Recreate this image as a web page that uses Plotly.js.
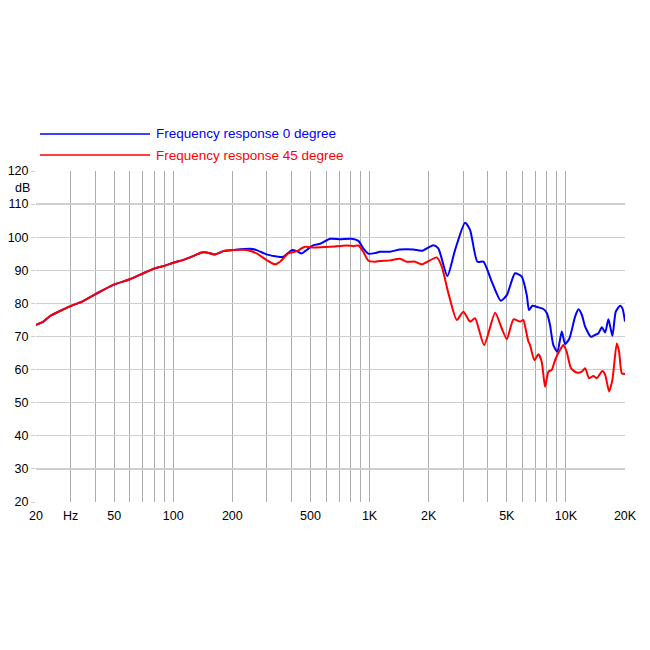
<!DOCTYPE html>
<html>
<head>
<meta charset="utf-8">
<script src="https://cdn.plot.ly/plotly-3.0.1.min.js"></script>
<style>
  html, body { margin: 0; padding: 0; background: #fff; }
  #chart { width: 650px; height: 650px; }
</style>
</head>
<body>
<div id="chart"></div>
<script>
// frequency (Hz) / level (dB)
var freq0 = [20, 21.8, 23.6, 26.5, 30, 34.8, 40.8, 49.5, 60.2, 70.4, 80.8, 90.8, 100, 114.8, 126.5, 139.6, 148, 163, 180, 202,
  246, 266, 299, 343, 364, 402, 426, 452, 482, 518, 560, 630, 708, 811, 877, 929, 986, 1067, 1130, 1271, 1429, 1671, 1845,
  2114, 2240, 2490, 2725, 3063, 3250, 3541, 3800, 4190, 4660, 5000, 5510, 5960, 6320, 6490, 6750, 7240, 7680, 8000, 8300,
  8630, 9050, 9530, 9910, 10420, 11140, 11590, 12060, 12530, 13440, 14090, 14650, 15250, 15850, 16460, 17250, 17950,
  18880, 19410, 20000];
var db0 = [73.5, 74.5, 76.2, 77.7, 79.2, 80.7, 83.0, 85.6, 87.3, 89.1, 90.6, 91.4, 92.3, 93.3, 94.3, 95.4, 95.4, 94.8, 95.8, 96.1,
  96.5, 96.1, 94.8, 94.1, 94.1, 96.1, 95.8, 95.1, 96.3, 97.6, 98.0, 99.5, 99.4, 99.5, 98.9, 96.6, 95.0, 95.2, 95.6, 95.6, 96.3, 96.3, 95.9,
  97.6, 96.6, 88.3, 96.1, 104.4, 102.2, 92.6, 92.6, 86.6, 80.8, 82.5, 89.1, 88.1, 82.5, 78.0, 79.3, 78.8, 78.3, 77.0, 73.5,
  67.4, 65.4, 71.5, 67.7, 69.4, 76.0, 78.2, 76.5, 73.0, 69.9, 70.5, 71.0, 72.8, 71.2, 75.2, 70.2, 77.5,
  79.3, 78.5, 74.5];

var freq45 = [20, 21.8, 23.6, 26.5, 30, 34.8, 40.8, 49.5, 60.2, 70.4, 80.8, 90.8, 100, 114.8, 126.5, 139.6, 148, 163, 180, 202,
  237, 266, 299, 330, 350, 386, 426, 469, 518, 630, 766, 827, 877, 929, 986, 1067, 1130, 1271, 1429, 1546, 1707, 1845,
  2199, 2333, 2520, 2780, 3005, 3250, 3445, 3830, 4360, 4710, 5000, 5410, 5850, 6070, 6200, 6440, 6570, 6910, 7240, 7530,
  7830, 8150, 8470, 8810, 9330, 9700, 10090, 10620, 11350, 12060, 12530, 13130, 13800, 14360, 15340, 15850, 16600,
  17250, 18160, 18660, 19270, 20000];
var db45 = [73.5, 74.5, 76.2, 77.7, 79.2, 80.7, 83.0, 85.6, 87.3, 89.1, 90.6, 91.4, 92.3, 93.3, 94.3, 95.4, 95.4, 94.8, 95.8, 96.1,
  96.1, 95.1, 93.1, 91.8, 92.6, 95.1, 95.8, 97.1, 96.9, 97.1, 97.5, 97.3, 97.5, 95.6, 92.9, 92.6, 92.8, 93.0, 93.5, 92.6, 92.6, 91.8,
  93.9, 91.1, 83.1, 75.0, 77.5, 74.5, 75.5, 67.4, 77.2, 72.5, 69.2, 75.2, 74.5, 75.0, 73.0, 68.5, 67.4, 62.9, 64.6, 62.4,
  54.8, 59.4, 59.9, 62.9, 65.9, 67.4, 65.4, 60.4, 59.1, 59.4, 60.4, 57.4, 58.1, 57.4, 59.6, 58.4, 53.4,
  56.9, 67.9, 65.4, 58.9, 58.7];

var seriesNames = ['Frequency response 0 degree', 'Frequency response 45 degree'];
var seriesColors = ['#0000ff', '#ff0000'];

// vertical grid at every 1..9 step, labels only on some
var xGrid = [20, 30, 40, 50, 60, 70, 80, 90, 100, 200, 300, 400, 500, 600, 700, 800, 900,
  1000, 2000, 3000, 4000, 5000, 6000, 7000, 8000, 9000, 10000, 20000];
var xLabels = ['20', 'Hz', '', '50', '', '', '', '', '100', '200', '', '', '500', '', '', '', '',
  '1K', '2K', '', '', '5K', '', '', '', '', '10K', '20K'];
var yTicks = [20, 30, 40, 50, 60, 70, 80, 90, 100, 110, 120];

var data = [
  {x: freq0, y: db0, type: 'scatter', mode: 'lines', name: seriesNames[0],
   line: {color: seriesColors[0], width: 2, shape: 'spline', smoothing: 0.6}},
  {x: freq45, y: db45, type: 'scatter', mode: 'lines', name: seriesNames[1],
   line: {color: seriesColors[1], width: 2, shape: 'spline', smoothing: 0.6}}
];

// legend drawn by hand: long line + label
var shapes = [], annotations = [];
var legendY = [1.1118, 1.0483];
for (var i = 0; i < seriesNames.length; i++) {
  shapes.push({type: 'line', xref: 'paper', yref: 'paper', x0: 0.0068, x1: 0.1935, y0: legendY[i], y1: legendY[i],
    line: {color: seriesColors[i], width: 1.5}});
  annotations.push({xref: 'paper', yref: 'paper', x: 0.2, y: legendY[i], xanchor: 'left', yanchor: 'middle',
    text: seriesNames[i], showarrow: false, font: {size: 13.5, color: seriesColors[i]}});
}
annotations.push({xref: 'paper', yref: 'y', x: 0, y: 115, xanchor: 'right', yanchor: 'middle', xshift: -4,
  text: 'dB', showarrow: false, font: {size: 12.5, color: '#000'}});

var layout = {
  width: 650,
  height: 650,
  margin: {l: 36, r: 25, t: 171, b: 148},
  paper_bgcolor: '#fff',
  plot_bgcolor: '#fff',
  showlegend: false,
  font: {family: 'Liberation Sans, Arial, sans-serif', size: 12.5, color: '#000'},
  xaxis: {
    type: 'log',
    range: [Math.log10(20), Math.log10(20000)],
    tickmode: 'array',
    tickvals: xGrid,
    ticktext: xLabels,
    ticks: '',
    ticklabelstandoff: 4,
    showgrid: true,
    gridcolor: '#ababab',
    gridwidth: 1,
    zeroline: false,
    showline: false,
    tickfont: {size: 12.5},
    fixedrange: true
  },
  yaxis: {
    range: [20, 120],
    tickmode: 'array',
    tickvals: yTicks,
    ticks: 'outside',
    ticklen: 4,
    tickcolor: '#cfcfcf',
    showgrid: true,
    gridcolor: '#cfcfcf',
    gridwidth: 1.3,
    zeroline: false,
    showline: false,
    tickfont: {size: 12.5},
    fixedrange: true
  },
  shapes: shapes,
  annotations: annotations
};

Plotly.newPlot('chart', data, layout, {displayModeBar: false, staticPlot: true});
</script>
</body>
</html>
